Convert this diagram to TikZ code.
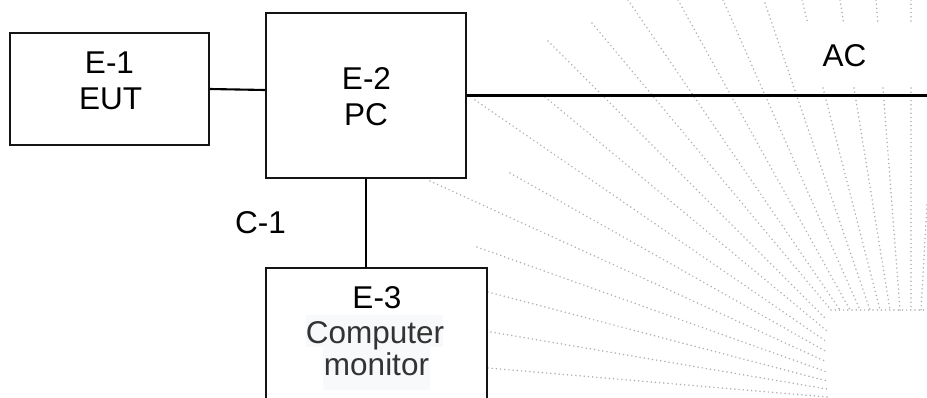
\documentclass[tikz,border=0pt]{standalone}
\usepackage{fontspec}
\setmainfont{Liberation Sans}
\definecolor{hilite}{HTML}{F8F9FA}
\definecolor{softtext}{HTML}{333333}
\definecolor{raygray}{HTML}{B0B0B0}
\newcommand{\bigfont}{\fontsize{31.5}{36}\selectfont}
\begin{document}
\begin{tikzpicture}[x=1pt,y=-1pt,
  stepbox/.style={draw=black!92, line width=2.1pt, inner sep=0pt, fill=none},
  lbl/.style={anchor=base, inner sep=0pt, font=\bigfont},
  softlbl/.style={lbl, text=softtext},
  ray/.style={draw=raygray, line width=1.7pt, line cap=round, dash pattern=on 0pt off 4.2pt},
  wire/.style={draw=black, line width=2.1pt}]
\useasboundingbox (0,0) rectangle (927,397);
\clip (0,0) rectangle (927,397);
% background fan of dotted rays
\draw[ray] (488,368) -- (827,397);
\draw[ray] (491,332) -- (827,389);
\draw[ray] (488,292) -- (827,381);
\draw[ray] (477,247) -- (827,372);
\draw[ray] (430,181) -- (827,362);
\draw[ray] (510,173) -- (827,352);
\draw[ray] (475,100) -- (827,342);
\draw[ray] (545,97) -- (827,331);
\draw[ray] (548,41) -- (827,320);
\draw[ray] (592,23) -- (831,310);
\draw[ray] (628,0) -- (840,310);
\draw[ray] (678,0) -- (850,310);
\draw[ray] (723,0) -- (860,310);
\draw[ray] (765,3) -- (870,310);
\draw[ray] (802,0) -- (807.5,22);
\draw[ray] (823,88) -- (880,310);
\draw[ray] (840,0) -- (843.5,22);
\draw[ray] (854,88) -- (890,310);
\draw[ray] (876,0) -- (877.8,22);
\draw[ray] (883,88) -- (900,310);
\draw[ray] (911,0) -- (911,22);
\draw[ray] (911,88) -- (911,310);
\draw[ray] (927,205) -- (921,310);
\draw[ray] (831,310) -- (927,310);
% highlight behind monitor text
\fill[hilite] (306,315) rectangle (443,347);
\fill[hilite] (323,347) rectangle (430,390);
% boxes
\node[stepbox, minimum width=199pt, minimum height=112pt] (E1) at (109.5,89) {};
\node[stepbox, minimum width=200pt, minimum height=165pt] (E2) at (366,95.5) {};
\node[stepbox, minimum width=221pt, minimum height=137pt] (E3) at (376.5,336.5) {};
% texts
\node[lbl] (e1a) at (109.5,73.3) {E-1};
\node[lbl] (e1b) at (110.5,109.3) {EUT};
\node[lbl] (e2a) at (366.5,89.3) {E-2};
\node[lbl] (e2b) at (366,125) {PC};
\node[lbl] (e3a) at (377,308) {E-3};
\node[softlbl] (e3b) at (375,343) {Computer};
\node[softlbl] (e3c) at (376.5,375) {monitor};
\node[lbl] (ac) at (844.5,66) {AC};
\node[lbl] (c1) at (260.5,233.3) {C-1};
% connectors
\coordinate (acend) at (930,95.5);
\draw[wire] (E1.east) -- ([yshift=5.5pt]E2.west);
\draw[wire] (E2.east) -- (acend);
\draw[wire] (E2.south) -- (E2.south |- E3.north);
\end{tikzpicture}
\end{document}
